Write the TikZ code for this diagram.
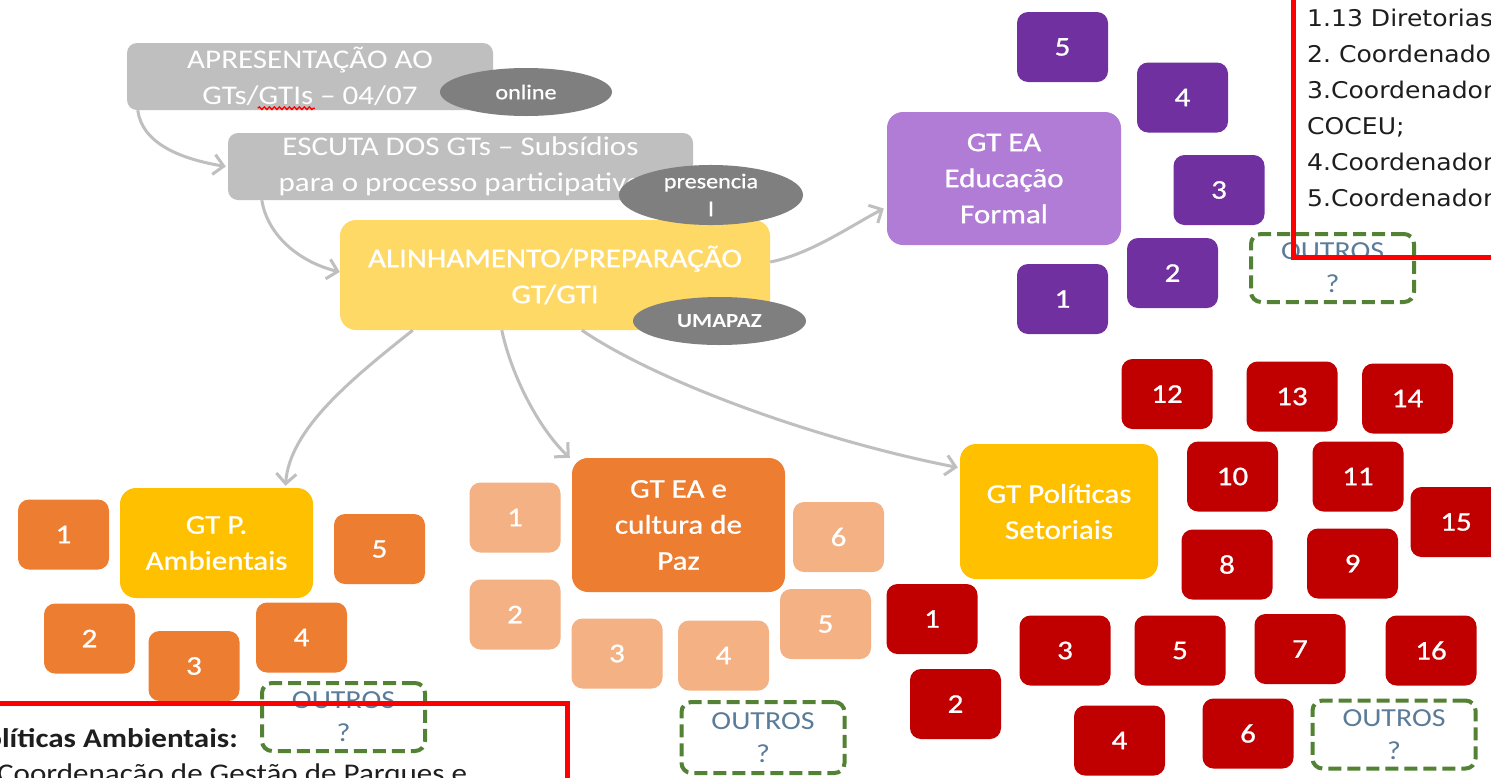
\documentclass[tikz,border=0pt]{standalone}
\usepackage{fontspec}
\setmainfont{Carlito}[FakeStretch=1.15]
\newfontfamily\boxfont{Carlito}[FakeStretch=1.15, FakeBold=0.8]
\newfontfamily\verd{DejaVu Sans}[FakeStretch=1.09]
\usetikzlibrary{arrows.meta,shapes.geometric,calc,decorations.pathmorphing}
\frenchspacing
\definecolor{gbox}{HTML}{BFBFBF}
\definecolor{ovalgray}{HTML}{7F7F7F}
\definecolor{ylight}{HTML}{FFD966}
\definecolor{gold}{HTML}{FFC000}
\definecolor{plight}{HTML}{B07CD5}
\definecolor{pdark}{HTML}{7030A0}
\definecolor{orng}{HTML}{ED7D31}
\definecolor{orlight}{HTML}{F4B183}
\definecolor{dred}{HTML}{C00000}
\definecolor{dgreen}{HTML}{548235}
\definecolor{otext}{HTML}{5B7C99}
\definecolor{agray}{HTML}{BFBFBF}
\definecolor{frame}{HTML}{FF0000}
\definecolor{ink}{HTML}{1E1E1E}
\tikzset{
  lbl/.style={font=\boxfont\fontsize{27}{36}\selectfont, text=white, align=center},
  graylbl/.style={font=\fontsize{27}{36}\selectfont, text=white, align=center},
  bigbox/.style={lbl, rounded corners=16pt, inner sep=0pt},
  graybox/.style={graylbl, fill=gbox, rounded corners=10pt, inner sep=0pt, minimum height=67pt},
  sq/.style={lbl, rounded corners=11pt, minimum width=91pt, minimum height=70pt, inner sep=0pt},
  oval/.style={ellipse, fill=ovalgray, text=white, inner sep=0pt, align=center, font=\boxfont\fontsize{21}{28}\selectfont},
  outros/.style={draw=dgreen, line width=4pt, dash pattern=on 13pt off 6pt, rounded corners=10pt,
     minimum width=163pt, minimum height=68pt, inner sep=0pt, align=center, text=otext,
     font=\fontsize{26}{33}\selectfont},
  conn/.style={draw=agray, line width=3pt, -{Straight Barb[length=10pt,width=20pt]}},
  redframe/.style={draw=frame, line width=5pt},
  listtxt/.style={anchor=base west, inner sep=0pt, text=ink, font=\verd\fontsize{23}{36}\selectfont},
  notetxt/.style={inner sep=0pt, text=ink, font=\fontsize{27}{36}\selectfont},
}
\begin{document}
\begin{tikzpicture}[x=1pt,y=-1pt]
\useasboundingbox (0,0) rectangle (1491,777);
\clip (0,0) rectangle (1491,777);
\fill[white] (0,0) rectangle (1491,777);

% ---- process boxes ----
\node[graybox, minimum width=366pt] (g1) at (310,76.5)
  {APRESENTAÇÃO AO\\GTs/GTIs – 04/07};
\node[graybox, minimum width=465pt] (g2) at (460.5,166.5)
  {ESCUTA DOS GTs – Subsídios\\para o processo participativo};
\node[bigbox, fill=ylight, minimum width=430pt, minimum height=110pt] (al) at (555,275)
  {ALINHAMENTO/PREPARAÇÃO\\GT/GTI};

\draw[red, line width=1.3pt, decorate, decoration={snake, amplitude=1.3pt, segment length=5pt}]
  ($(g1.south west)+(131,-2)$) -- ++(57,0);

\node[oval, minimum width=172pt, minimum height=48pt] (on) at (526,92) {online};
\node[oval, minimum width=184pt, minimum height=52pt] (pr) at (711,195) {presencia\\l};
\node[oval, minimum width=173pt, minimum height=48pt, font=\bfseries\fontsize{20}{28}\selectfont] (um) at (719.5,321) {UMAPAZ};

% ---- group boxes ----
\node[bigbox, fill=plight, minimum width=234pt, minimum height=133pt] (pb) at (1004,178.5) {GT EA\\Educação\\Formal};
\node[bigbox, fill=gold, minimum width=193pt, minimum height=110pt] (gp) at (216.5,543) {GT P.\\Ambientais};
\node[bigbox, fill=orng, minimum width=213pt, minimum height=134pt] (cu) at (678.5,525) {GT EA e\\cultura de\\Paz};
\node[bigbox, fill=gold, minimum width=198pt, minimum height=135pt] (po) at (1059,511.5) {GT Políticas\\Setoriais};

% ---- connectors ----
\coordinate (a1s) at ($(g1.south west)+(11,0)$);
\coordinate (a1e) at ($(g2.west)+(-2,0)$);
\draw[conn] (a1s) .. controls ($(a1s)+(4,32)$) and ($(a1e)+(-48,-8)$) .. (a1e);
\coordinate (a2s) at ($(g2.south west)+(34,0)$);
\coordinate (a2e) at ($(al.west)+(0,-3)$);
\draw[conn] (a2s) .. controls ($(a2s)+(6,36)$) and ($(a2e)+(-40,-10)$) .. (a2e);
\coordinate (a3s) at ($(al.east)+(0,-13)$);
\coordinate (a3e) at ($(pb.west)+(-3,30)$);
\draw[conn] (a3s) .. controls ($(a3s)+(40,-8)$) and ($(a3e)+(-34,18)$) .. (a3e);
\coordinate (a4s) at ($(al.south west)+(73,0)$);
\coordinate (a4e) at ($(gp.north)+(69,-2)$);
\draw[conn] (a4s) .. controls ($(a4s)+(-63,50)$) and ($(a4e)+(4,-56)$) .. (a4e);
\coordinate (a5s) at ($(al.south west)+(162,0)$);
\coordinate (a5e) at ($(cu.north west)+(-2,0)$);
\draw[conn] (a5s) .. controls ($(a5s)+(10,47)$) and ($(a5e)+(-30,-28)$) .. (a5e);
\coordinate (a6s) at ($(al.south west)+(242,0)$);
\coordinate (a6e) at ($(po.west)+(-2,-44)$);
\draw[conn] (a6s) .. controls ($(a6s)+(78,53)$) and ($(a6e)+(-138,-27)$) .. (a6e);

% ---- purple items ----
\node[sq, fill=pdark] (p5) at (1062.5,47) {5};
\node[sq, fill=pdark] (p4) at (1182.5,97.5) {4};
\node[sq, fill=pdark] (p3) at (1219,190) {3};
\node[sq, fill=pdark] (p2) at (1172.5,273) {2};
\node[sq, fill=pdark] (p1) at (1062.5,299) {1};
\node[outros] (ou1) at (1332.5,268) {OUTROS\\?};

% ---- orange items (GT P. Ambientais) ----
\node[sq, fill=orng] (o1) at (63.5,534.5) {1};
\node[sq, fill=orng] (o2) at (89.5,638.5) {2};
\node[sq, fill=orng] (o3) at (194,666) {3};
\node[sq, fill=orng] (o4) at (301.5,637.5) {4};
\node[sq, fill=orng] (o5) at (379.5,549) {5};
\node[outros] (ou2) at (343.5,717) {OUTROS\\?};

% ---- light orange items (cultura de Paz) ----
\node[sq, fill=orlight] (l1) at (515,517.5) {1};
\node[sq, fill=orlight] (l2) at (515,614.5) {2};
\node[sq, fill=orlight] (l3) at (617,653.5) {3};
\node[sq, fill=orlight] (l4) at (723.5,655.5) {4};
\node[sq, fill=orlight] (l5) at (825.5,624) {5};
\node[sq, fill=orlight] (l6) at (838.5,537) {6};
\node[outros, minimum height=71pt] (ou3) at (763,737.5) {OUTROS\\?};

% ---- red items (Políticas Setoriais) ----
\node[sq, fill=dred] (r12) at (1167,394) {12};
\node[sq, fill=dred] (r13) at (1292,396.5) {13};
\node[sq, fill=dred] (r14) at (1407.5,398.5) {14};
\node[sq, fill=dred] (r10) at (1232.5,476.5) {10};
\node[sq, fill=dred] (r11) at (1358,476.5) {11};
\node[sq, fill=dred] (r15) at (1456,522) {15};
\node[sq, fill=dred] (r8) at (1227,564.5) {8};
\node[sq, fill=dred] (r9) at (1352.5,563.5) {9};
\node[sq, fill=dred] (r1) at (932,619) {1};
\node[sq, fill=dred] (r3) at (1065,650.5) {3};
\node[sq, fill=dred] (r5) at (1180,650.5) {5};
\node[sq, fill=dred] (r7) at (1300,649) {7};
\node[sq, fill=dred] (r16) at (1431,650.5) {16};
\node[sq, fill=dred] (r2) at (955.5,704) {2};
\node[sq, fill=dred] (r4) at (1119.5,740.5) {4};
\node[sq, fill=dred] (r6) at (1248,733.5) {6};
\node[outros] (ou4) at (1394,734.5) {OUTROS\\?};

% ---- note frames ----
\node[listtxt] (t1) at (1307,26) {1.13 Diretorias};
\node[listtxt] (t2) at (1307,62) {2. Coordenadoria};
\node[listtxt] (t3) at (1307,98) {3.Coordenadoria};
\node[listtxt] (t4) at (1307,134) {COCEU;};
\node[listtxt] (t5) at (1307,170) {4.Coordenadoria};
\node[listtxt] (t6) at (1307,206) {5.Coordenadoria};
\draw[redframe] (1293.5,-20) rectangle (1520,257);

\node[notetxt, anchor=base east, font=\bfseries\fontsize{27}{36}\selectfont] (n1) at (238,747) {Políticas Ambientais:};
\node[notetxt, anchor=base west] (n2) at (-3,782) {Coordenação de Gestão de Parques e};
\draw[redframe] (-20,703.5) rectangle (567.5,800);
\end{tikzpicture}
\end{document}
